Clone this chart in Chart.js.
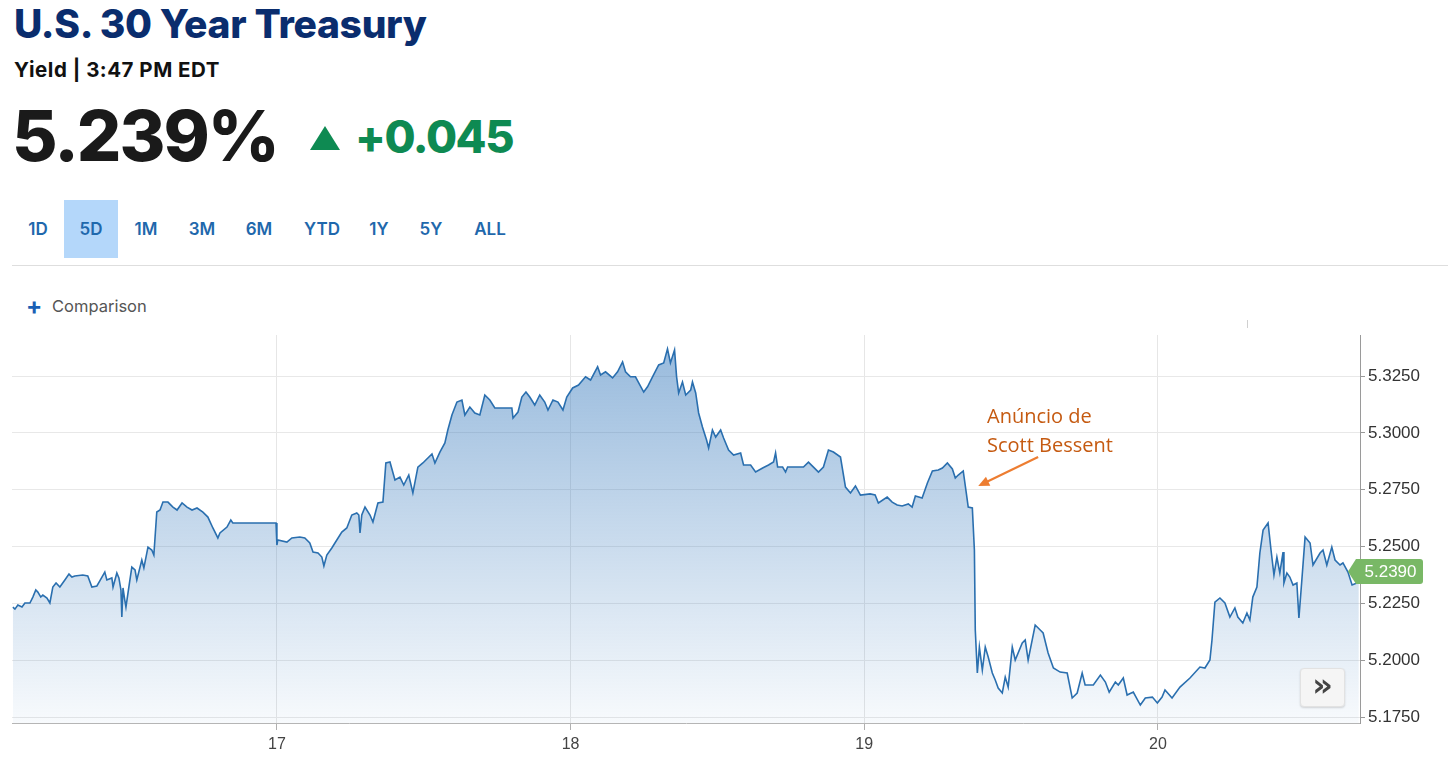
<!DOCTYPE html>
<html><head><meta charset="utf-8">
<script src="https://cdn.jsdelivr.net/npm/chart.js@4.4.1/dist/chart.umd.min.js"></script>
<style>
html,body{margin:0;padding:0;background:#fff;width:1456px;height:773px;overflow:hidden;font-family:Inter,'Liberation Sans',sans-serif;}
.abs{position:absolute;white-space:nowrap;line-height:1;}
#title{left:14px;top:4px;font-size:39px;font-weight:800;color:#0a2d6e;letter-spacing:-0.3px;}
#sub{left:14px;top:60px;font-size:20.5px;font-weight:700;color:#111;letter-spacing:0.5px;}
#price{left:12px;top:101px;font-size:70px;font-weight:800;color:#1a1a1a;letter-spacing:-2px;}
#tri{left:310px;top:126px;width:30px;height:24px;background:#0e8a52;clip-path:polygon(50% 0,100% 100%,0 100%);}
#chg{left:355px;top:114px;font-size:45px;font-weight:800;color:#0e8a52;letter-spacing:-1.4px;}
#hl{left:64px;top:200px;width:54px;height:58px;background:#b4d7fa;}
.tab{top:221px;font-size:17px;font-weight:600;color:#1f68ac;transform:translateX(-50%);}
#sep{left:12px;top:265px;width:1436px;height:1px;background:#dedede;}
#plus{left:26px;top:294px;font-size:24px;font-weight:700;color:#1a5fb4;}
#cmp{left:52px;top:298px;font-size:16.5px;color:#555;}
#btn{left:1300px;top:668px;width:43px;height:37px;background:#f5f5f5;border:1px solid #e2e2e2;border-radius:4px;box-shadow:0 1px 2px rgba(0,0,0,0.15);color:#444;font-family:'DejaVu Sans';font-weight:bold;font-size:32px;text-align:center;line-height:33px;}
#mark{left:1247px;top:320px;width:1px;height:8px;background:#d0d0d0;}
canvas{position:absolute;left:0;top:320px;}
</style></head><body>
<div class="abs" id="title">U.S. 30 Year Treasury</div>
<div class="abs" id="sub">Yield | 3:47 PM EDT</div>
<div class="abs" id="price">5.239%</div>
<div class="abs" id="tri"></div>
<div class="abs" id="chg">+0.045</div>
<div class="abs" id="hl"></div>
<div class="abs tab" style="left:38px">1D</div>
<div class="abs tab" style="left:91px">5D</div>
<div class="abs tab" style="left:146px">1M</div>
<div class="abs tab" style="left:202px">3M</div>
<div class="abs tab" style="left:259px">6M</div>
<div class="abs tab" style="left:322px">YTD</div>
<div class="abs tab" style="left:379px">1Y</div>
<div class="abs tab" style="left:431px">5Y</div>
<div class="abs tab" style="left:490px">ALL</div>
<div class="abs" id="sep"></div>
<div class="abs" id="plus">+</div>
<div class="abs" id="cmp">Comparison</div>
<div class="abs" id="mark"></div>
<canvas id="c" width="1456" height="453"></canvas>
<div class="abs" id="btn">»</div>
<script>
// ---- data (x = day of month, fractional; y = yield %) ----
const day16Times = [16.101,16.108,16.118,16.132,16.142,16.159,16.169,16.179,16.186,16.196,16.203,16.217,16.227,16.237,16.248,16.261,16.278,16.292,16.302,16.312,16.339,16.356,16.370,16.387,16.397,16.414,16.421,16.438,16.442,16.455,16.462,16.469,16.472,16.476,16.482,16.486,16.493,16.506,16.517,16.523,16.540,16.547,16.561,16.574,16.581,16.591,16.602,16.612,16.629,16.646,16.660,16.677,16.694,16.711,16.728,16.748,16.765,16.782,16.799,16.806,16.830,16.843,16.850,16.997];
const day16Yields = [5.2234,5.2225,5.2243,5.2234,5.2252,5.2252,5.2278,5.2309,5.2300,5.2278,5.2287,5.2274,5.2252,5.2322,5.2340,5.2322,5.2353,5.2379,5.2366,5.2371,5.2375,5.2371,5.2322,5.2327,5.2349,5.2388,5.2353,5.2362,5.2322,5.2384,5.2362,5.2309,5.2190,5.2318,5.2265,5.2234,5.2296,5.2410,5.2397,5.2353,5.2441,5.2406,5.2498,5.2485,5.2463,5.2652,5.2661,5.2696,5.2696,5.2674,5.2661,5.2692,5.2674,5.2661,5.2670,5.2652,5.2630,5.2582,5.2538,5.2560,5.2586,5.2617,5.2604,5.2604];
const day17Times = [17.000,17.003,17.034,17.051,17.078,17.095,17.112,17.123,17.140,17.153,17.160,17.170,17.187,17.204,17.221,17.238,17.255,17.272,17.279,17.283,17.289,17.300,17.317,17.327,17.344,17.361,17.371,17.385,17.402,17.419,17.432,17.449,17.463,17.480,17.497,17.528,17.538,17.555,17.572,17.582,17.596,17.613,17.630,17.640,17.657,17.674,17.691,17.708,17.725,17.742,17.800,17.804,17.821,17.834,17.848,17.861,17.878,17.895,17.912,17.923,17.940,17.957,17.974,17.987];
const day17Yields = [5.2507,5.2529,5.2520,5.2538,5.2542,5.2538,5.2516,5.2476,5.2472,5.2454,5.2415,5.2463,5.2494,5.2529,5.2564,5.2582,5.2639,5.2648,5.2639,5.2560,5.2639,5.2674,5.2639,5.2608,5.2692,5.2696,5.2868,5.2872,5.2793,5.2806,5.2771,5.2815,5.2736,5.2850,5.2868,5.2908,5.2868,5.2916,5.2956,5.3013,5.3079,5.3136,5.3145,5.3079,5.3114,5.3088,5.3079,5.3167,5.3145,5.3110,5.3110,5.3066,5.3092,5.3158,5.3180,5.3158,5.3123,5.3167,5.3136,5.3101,5.3145,5.3136,5.3101,5.3158];
const day18Times = [18.007,18.027,18.051,18.068,18.092,18.102,18.119,18.143,18.160,18.177,18.187,18.204,18.221,18.232,18.249,18.262,18.279,18.300,18.317,18.330,18.340,18.354,18.361,18.368,18.381,18.392,18.409,18.415,18.426,18.436,18.449,18.463,18.470,18.483,18.494,18.511,18.521,18.538,18.555,18.579,18.589,18.613,18.630,18.654,18.674,18.691,18.698,18.705,18.722,18.732,18.739,18.793,18.810,18.827,18.844,18.861,18.878,18.895,18.919,18.936,18.953,18.970,18.987];
const day18Yields = [5.3198,5.3211,5.3247,5.3233,5.3291,5.3255,5.3269,5.3242,5.3269,5.3313,5.3269,5.3247,5.3247,5.3220,5.3180,5.3203,5.3247,5.3299,5.3308,5.3370,5.3308,5.3365,5.3247,5.3176,5.3224,5.3167,5.3189,5.3224,5.3176,5.3088,5.3026,5.2969,5.2934,5.3013,5.2982,5.3013,5.2978,5.2925,5.2903,5.2912,5.2859,5.2859,5.2828,5.2846,5.2859,5.2872,5.2912,5.2850,5.2850,5.2828,5.2850,5.2850,5.2872,5.2850,5.2828,5.2850,5.2925,5.2916,5.2894,5.2762,5.2736,5.2767,5.2727];
const day19Times = [19.020,19.037,19.048,19.078,19.095,19.112,19.129,19.150,19.163,19.174,19.197,19.215,19.232,19.252,19.266,19.283,19.300,19.310,19.320,19.337,19.347,19.354,19.368,19.375,19.378,19.385,19.392,19.402,19.412,19.422,19.436,19.446,19.456,19.470,19.480,19.490,19.504,19.514,19.538,19.548,19.558,19.582,19.599,19.609,19.626,19.644,19.667,19.691,19.708,19.725,19.742,19.752,19.780,19.804,19.821,19.834,19.855,19.865,19.882,19.895,19.916,19.940,19.957,19.981,19.998];
const day19Yields = [5.2732,5.2727,5.2692,5.2718,5.2696,5.2683,5.2679,5.2688,5.2674,5.2723,5.2714,5.2780,5.2833,5.2837,5.2846,5.2868,5.2842,5.2802,5.2815,5.2833,5.2740,5.2674,5.2670,5.2485,5.2133,5.1944,5.2058,5.1957,5.2058,5.2014,5.1944,5.1913,5.1878,5.1856,5.1926,5.1882,5.2058,5.2001,5.2076,5.2089,5.2001,5.2155,5.2133,5.2120,5.2032,5.1966,5.1948,5.1944,5.1834,5.1856,5.1944,5.1891,5.1891,5.1935,5.1904,5.1860,5.1904,5.1891,5.1922,5.1847,5.1860,5.1803,5.1834,5.1838,5.1812];
const day20Times = [20.014,20.024,20.048,20.075,20.109,20.143,20.160,20.177,20.184,20.194,20.211,20.228,20.245,20.262,20.272,20.289,20.303,20.313,20.323,20.337,20.347,20.358,20.375,20.385,20.395,20.405,20.415,20.426,20.429,20.439,20.449,20.460,20.473,20.480,20.490,20.501,20.518,20.528,20.552,20.562,20.575,20.592,20.603,20.620,20.630,20.647,20.661,20.678,20.684];
const day20Yields = [5.1838,5.1869,5.1834,5.1882,5.1922,5.1970,5.1966,5.2001,5.2089,5.2256,5.2274,5.2252,5.2190,5.2230,5.2190,5.2164,5.2208,5.2177,5.2278,5.2322,5.2472,5.2573,5.2604,5.2485,5.2375,5.2454,5.2384,5.2476,5.2340,5.2384,5.2366,5.2331,5.2340,5.2186,5.2353,5.2542,5.2516,5.2419,5.2472,5.2485,5.2419,5.2498,5.2441,5.2419,5.2428,5.2388,5.2331,5.2340,5.2362];

const xTickValues = [17, 18, 19, 20];
const yTickValues = [5.175, 5.200, 5.225, 5.250, 5.275, 5.300, 5.325];
const xRange = [16.098, 20.688];
const yRange = [5.1724, 5.3431];
const lastYield = 5.2390;
const annotationLines = ['Anúncio de', 'Scott Bessent'];
const annotationText = {x: 19.418, y: [5.3044, 5.2916]};
const annotationArrow = {fromX: 19.592, fromY: 5.2894, toX: 19.388, toY: 5.2767};

const times = [].concat(day16Times, day17Times, day18Times, day19Times, day20Times);
const yields = [].concat(day16Yields, day17Yields, day18Yields, day19Yields, day20Yields);
const points = times.map((t, i) => ({x: t, y: yields[i]}));

const overlay = {
  id: 'overlay',
  afterDraw(chart) {
    const c = chart.ctx, xs = chart.scales.x, ys = chart.scales.y;
    c.save();
    c.fillStyle = '#c55a11';
    c.font = "20px 'Open Sans'";
    c.textBaseline = 'alphabetic';
    annotationLines.forEach((t, i) => {
      c.fillText(t, xs.getPixelForValue(annotationText.x), ys.getPixelForValue(annotationText.y[i]));
    });
    const x1 = xs.getPixelForValue(annotationArrow.fromX), y1 = ys.getPixelForValue(annotationArrow.fromY);
    const x2 = xs.getPixelForValue(annotationArrow.toX), y2 = ys.getPixelForValue(annotationArrow.toY);
    const ang = Math.atan2(y2 - y1, x2 - x1);
    c.strokeStyle = '#ed7d31'; c.fillStyle = '#ed7d31'; c.lineWidth = 2.2;
    c.beginPath(); c.moveTo(x1, y1); c.lineTo(x2 - 8 * Math.cos(ang), y2 - 8 * Math.sin(ang)); c.stroke();
    c.beginPath();
    c.moveTo(x2, y2);
    c.lineTo(x2 - 11 * Math.cos(ang) + 5 * Math.sin(ang), y2 - 11 * Math.sin(ang) - 5 * Math.cos(ang));
    c.lineTo(x2 - 11 * Math.cos(ang) - 5 * Math.sin(ang), y2 - 11 * Math.sin(ang) + 5 * Math.cos(ang));
    c.closePath(); c.fill();
    const by = ys.getPixelForValue(lastYield);
    const left = chart.chartArea.right - 12, bx = chart.chartArea.right - 4, bw = 67, bh = 25;
    c.fillStyle = '#79b866';
    c.beginPath();
    c.moveTo(left, by);
    c.lineTo(bx, by - bh / 2);
    c.lineTo(bx + bw - 3, by - bh / 2);
    c.quadraticCurveTo(bx + bw, by - bh / 2, bx + bw, by - bh / 2 + 3);
    c.lineTo(bx + bw, by + bh / 2 - 3);
    c.quadraticCurveTo(bx + bw, by + bh / 2, bx + bw - 3, by + bh / 2);
    c.lineTo(bx, by + bh / 2);
    c.closePath(); c.fill();
    c.fillStyle = '#fff';
    c.font = "17px 'Liberation Sans'";
    c.textAlign = 'center'; c.textBaseline = 'middle';
    c.fillText(lastYield.toFixed(4), bx + bw / 2 + 1, by + 1);
    c.restore();
  }
};

new Chart(document.getElementById('c'), {
  type: 'line',
  data: {
    datasets: [{
      data: points,
      borderColor: '#2a6faf',
      borderWidth: 1.6,
      pointRadius: 0,
      tension: 0,
      fill: 'start',
      backgroundColor: (ctx) => {
        const ch = ctx.chart, a = ch.chartArea;
        if (!a) return 'rgba(60,125,190,0.3)';
        const g = ch.ctx.createLinearGradient(0, a.top, 0, a.bottom);
        g.addColorStop(0, 'rgba(60,125,190,0.54)');
        g.addColorStop(1, 'rgba(60,125,190,0.04)');
        return g;
      }
    }]
  },
  options: {
    responsive: false,
    animation: false,
    layout: {padding: {left: 12, top: 15, right: 0, bottom: 0}},
    plugins: {legend: {display: false}, tooltip: {enabled: false}},
    scales: {
      x: {
        type: 'linear',
        min: xRange[0], max: xRange[1],
        afterBuildTicks: (s) => { s.ticks = xTickValues.map(v => ({value: v})); },
        afterFit: (s) => { s.height = 50; },
        ticks: {font: {family: "'Liberation Sans'", size: 16}, color: '#444', padding: 5, callback: (v) => String(v), maxRotation: 0},
        grid: {color: '#e6e6e6', tickColor: '#b0b0b0', tickLength: 7},
        border: {color: '#b5b5b5', width: 1}
      },
      y: {
        position: 'right',
        min: yRange[0], max: yRange[1],
        afterBuildTicks: (s) => { s.ticks = yTickValues.map(v => ({value: v})); },
        afterFit: (s) => { s.width = 96; },
        ticks: {font: {family: "'Liberation Sans'", size: 17}, color: '#333', padding: 3, callback: (v) => Number(v).toFixed(4)},
        grid: {color: '#e8e8e8', tickColor: '#999', tickLength: 5},
        border: {color: '#9a9a9a', width: 1}
      }
    }
  },
  plugins: [overlay]
});
</script>
</body></html>
